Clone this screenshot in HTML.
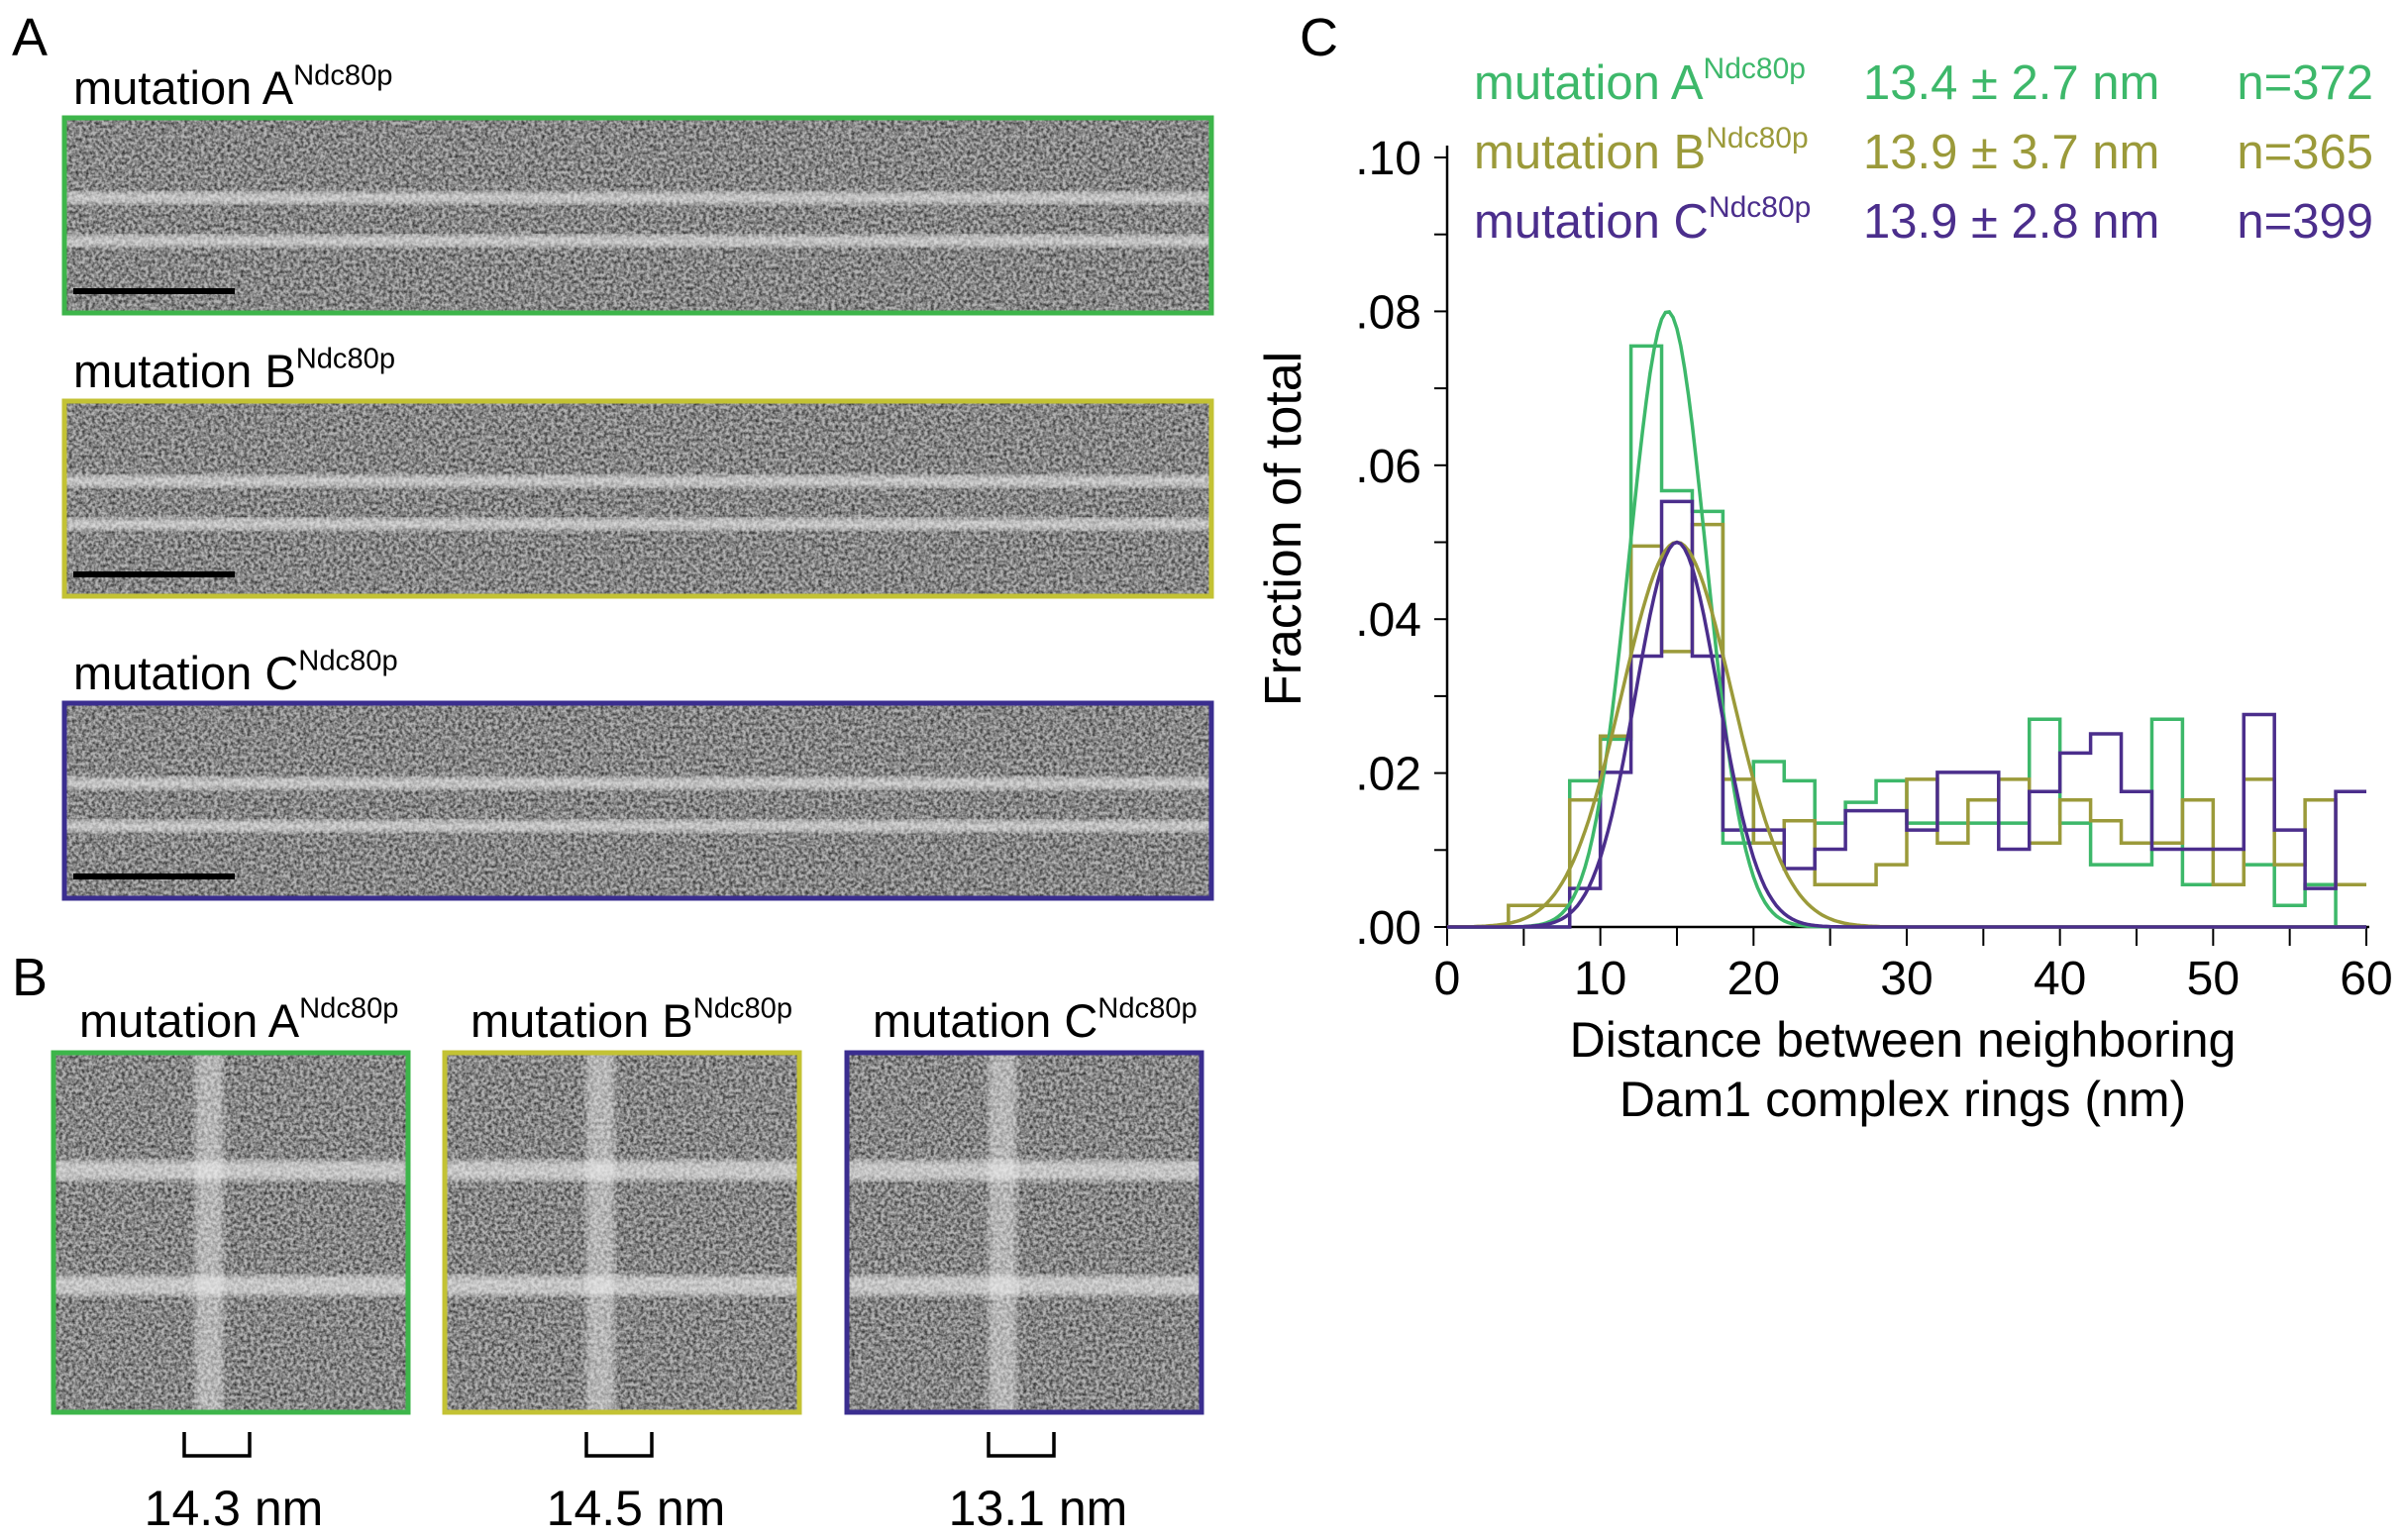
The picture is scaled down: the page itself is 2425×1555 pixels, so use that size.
<!DOCTYPE html>
<html><head><meta charset="utf-8"><style>
html,body{margin:0;padding:0;background:#fff}
svg{display:block;font-family:"Liberation Sans",Arial,sans-serif}
</style></head><body>
<svg id="fig" width="2425" height="1555" viewBox="0 0 2425 1555">
<defs>
<filter id="noise" x="0" y="0" width="100%" height="100%">
<feTurbulence type="fractalNoise" baseFrequency="0.3" numOctaves="2" seed="3" result="t"/>
<feColorMatrix type="matrix" values="0 0 0 0 0  0 0 0 0 0  0 0 0 0 0  0 0 0 -1.8 1.25" in="t" result="a"/>
<feComposite operator="in" in="SourceGraphic" in2="a"/>
</filter>
<filter id="blur"><feGaussianBlur stdDeviation="3"/></filter>
</defs>
<g id="panelA">
<text x="12" y="56" font-size="54">A</text>
</g>
<g id="panelB">
<text x="12" y="1005" font-size="54">B</text>
</g>
<g id="panelC">
<text x="1312" y="56" font-size="54">C</text>
</g>
</svg>
<script>
const NS='http://www.w3.org/2000/svg';
const svg=document.getElementById('fig');
function mk(tag,attrs,parent,text){const e=document.createElementNS(NS,tag);for(const k in attrs)e.setAttribute(k,attrs[k]);if(text!==undefined)e.textContent=text;(parent||svg).appendChild(e);return e;}

// ---------- chart data ----------
const binStart=[0,2,4,6,8,10,12,14,16,18,20,22,24,26,28,30,32,34,36,38,40,42,44,46,48,50,52,54,56,58];
const seriesNames=['mutation A','mutation B','mutation C'];
const seriesStats=['13.4 ± 2.7 nm','13.9 ± 3.7 nm','13.9 ± 2.8 nm'];
const seriesN=['n=372','n=365','n=399'];
const histA=[0,0,0,0,0.0190,0.0244,0.0755,0.0567,0.0540,0.0109,0.0215,0.0190,0.0135,0.0162,0.0190,0.0135,0.0135,0.0135,0.0135,0.0270,0.0135,0.0081,0.0081,0.0270,0.0055,0.0055,0.0081,0.0028,0.0055,0];
const histB=[0,0,0.0028,0.0028,0.0165,0.0248,0.0495,0.0358,0.0523,0.0192,0.0109,0.0138,0.0055,0.0055,0.0081,0.0192,0.0109,0.0165,0.0192,0.0109,0.0165,0.0138,0.0109,0.0109,0.0165,0.0055,0.0192,0.0081,0.0165,0.0055];
const histC=[0,0,0,0,0.0050,0.0201,0.0352,0.0553,0.0352,0.0126,0.0126,0.0076,0.0101,0.0151,0.0151,0.0126,0.0201,0.0201,0.0101,0.0176,0.0226,0.0251,0.0176,0.0101,0.0101,0.0101,0.0276,0.0126,0.0050,0.0176];
const fitMean=[14.4,15.0,15.0];
const fitSd=[2.5,3.6,2.7];
const fitPeak=[0.080,0.050,0.050];
const yTicks=[0,0.02,0.04,0.06,0.08,0.10];
const yTickLabels=['.00','.02','.04','.06','.08','.10'];
const xTicks=[0,10,20,30,40,50,60];
const colors=['#3db86a','#9b9a3a','#4b2e8c'];
const boxColors=['#3db54a','#c3c234','#3a2d8f'];

// ---------- axes ----------
const X0=1461,X1=2389,Y0=936,Y1=159;
const xs=v=>X0+(v-0)/(60-0)*(X1-X0);
const ys=v=>Y0-(v-0)/(0.10-0)*(Y0-Y1);
const pC=document.getElementById('panelC');

const plot=mk('g',{},pC);



const yAxis=mk('line',{x1:X0,y1:Y0,x2:X0,y2:Y1-12,stroke:'#000','stroke-width':2.5},plot);


const xAxis=mk('line',{x1:X0,y1:Y0,x2:X1+3,y2:Y0,stroke:'#000','stroke-width':2.5},plot);



for(let v=0;v<=0.1001;v+=0.01){const t=mk('line',{x1:X0-13,y1:ys(v),x2:X0,y2:ys(v),stroke:'#000','stroke-width':2},plot);

}
yTicks.forEach((v,i)=>{const t=mk('text',{x:X0-26,y:ys(v)+17,'font-size':48,'text-anchor':'end'},plot,yTickLabels[i]);

});
for(let v=0;v<=60;v+=5){const t=mk('line',{x1:xs(v),y1:Y0,x2:xs(v),y2:Y0+19,stroke:'#000','stroke-width':2},plot);

}
xTicks.forEach(v=>{const t=mk('text',{x:xs(v),y:Y0+68,'font-size':48,'text-anchor':'middle'},plot,String(v));

});
const xt1=mk('text',{x:1921,y:1067,'font-size':50,'text-anchor':'middle'},plot,'Distance between neighboring');


const xt2=mk('text',{x:1921,y:1127,'font-size':50,'text-anchor':'middle'},plot,'Dam1 complex rings (nm)');


const yt=mk('text',{x:0,y:0,'font-size':52,'text-anchor':'middle',transform:'translate(1313,534) rotate(-90)'},plot,'Fraction of total');



// histograms
[histA,histB,histC].forEach((h,si)=>{
  let d='';
  binStart.forEach((b,i)=>{const y=ys(h[i]);d+=(i===0?'M':'L')+xs(b)+','+y+' L'+xs(b+2)+','+y+' ';});
  const p=mk('path',{d:d,fill:'none',stroke:colors[si],'stroke-width':3.5,'stroke-linejoin':'miter'},plot);
  
  
});
// gaussian fits
fitMean.forEach((m,si)=>{
  let d='';
  for(let x=0;x<=60.001;x+=0.25){const v=fitPeak[si]*Math.exp(-((x-m)**2)/(2*fitSd[si]**2));d+=(x===0?'M':'L')+xs(x).toFixed(1)+','+ys(v).toFixed(1)+' ';}
  const p=mk('path',{d:d,fill:'none',stroke:colors[si],'stroke-width':3.5},plot);
  
  
});

// legend
seriesNames.forEach((n,i)=>{
  const y=100+i*70;
  const g=mk('g',{fill:colors[i]},pC);
  
  
  const t=mk('text',{x:1488,y:y,'font-size':49},g);
  t.appendChild(document.createTextNode(n));
  mk('tspan',{'font-size':30,dy:-21,dx:0},t,'Ndc80p');
  mk('text',{x:1881,y:y,'font-size':49},g,seriesStats[i]);
  mk('text',{x:2396,y:y,'font-size':49,'text-anchor':'end'},g,seriesN[i]);
});

// ---------- micrographs ----------
const pA=document.getElementById('panelA');
const pB=document.getElementById('panelB');
function micro(parent,x,y,w,h,col,name,strands){
  const g=mk('g',{},parent);
  
  
  mk('rect',{x:x,y:y,width:w,height:h,fill:'#b4b4b4'},g);
  mk('rect',{x:x,y:y,width:w,height:h,fill:'#303030',filter:'url(#noise)'},g);
  strands.forEach(s=>{
    if(s.dir==='h')mk('rect',{x:x,y:y+s.p*h,width:w,height:s.t,fill:'#f0f0f0',opacity:0.6,filter:'url(#blur)'},g);
    else mk('rect',{x:x+s.p*w,y:y,width:s.t,height:h,fill:'#f0f0f0',opacity:0.45,filter:'url(#blur)'},g);
  });
  mk('rect',{x:x,y:y,width:w,height:h,fill:'none',stroke:col,'stroke-width':5},g);
  return g;
}
function label(parent,x,y,txt,size,name){
  const t=mk('text',{x:x,y:y,'font-size':size},parent);
  
  
  t.appendChild(document.createTextNode(txt));
  mk('tspan',{'font-size':size*0.62,dy:-size*0.42,dx:0},t,'Ndc80p');
}
const aBoxes=[[119,'A'],[405,'B'],[710,'C']];
aBoxes.forEach((b,i)=>{
  label(pA,74,b[0]-14,'mutation '+b[1],47,'label-a-'+b[1].toLowerCase());
  micro(pA,65,b[0],1158,197,boxColors[i],'micrograph-a-'+b[1].toLowerCase(),[{dir:'h',p:0.38,t:12},{dir:'h',p:0.6,t:12}]);
  const sb=mk('rect',{x:74,y:b[0]+172,width:163,height:6,fill:'#000'},pA);
  
  
});
const bBoxes=[[54,'A','14.3 nm',186],[449,'B','14.5 nm',592],[855,'C','13.1 nm',998]];
bBoxes.forEach((b,i)=>{
  label(pB,b[0]+26,1047,'mutation '+b[1],47,'label-b-'+b[1].toLowerCase());
  micro(pB,b[0],1063,358,363,boxColors[i],'micrograph-b-'+b[1].toLowerCase(),[{dir:'h',p:0.3,t:20},{dir:'h',p:0.62,t:20},{dir:'v',p:0.4,t:28}]);
  const br=mk('path',{d:`M${b[3]},1446 L${b[3]},1470 L${b[3]+66},1470 L${b[3]+66},1446`,fill:'none',stroke:'#000','stroke-width':3.5},pB);
  
  
  const t=mk('text',{x:b[3]+50,y:1540,'font-size':50,'text-anchor':'middle'},pB,b[2]);
  
  
});
</script>
</body></html>
